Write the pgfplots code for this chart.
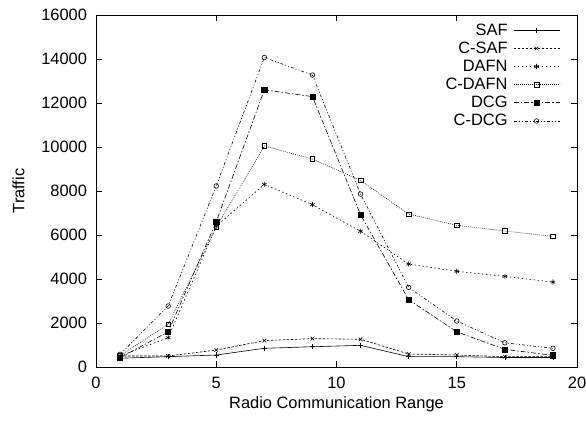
\documentclass[border=0pt]{standalone}
\usepackage{pgfplots}
\pgfplotsset{compat=1.18}
\usepackage{fontspec}
\setmainfont{Liberation Sans}
\newcommand{\tfont}{\fontsize{16.5}{19}\selectfont}
\begin{document}
\begin{tikzpicture}
\begin{axis}[
  scale only axis,
  width=481bp, height=352bp,
  xmin=0, xmax=20, ymin=0, ymax=16000,
  xtick={0,5,10,15,20},
  ytick={0,2000,4000,6000,8000,10000,12000,14000,16000},
  minor xtick={},
  tick align=inside,
  major tick length=6bp,
  axis line style={line width=0.9pt},
  every tick/.style={black, line width=0.7pt},
  scaled y ticks=false,
  /pgf/number format/assume math mode=true,
  /pgf/number format/1000 sep={},
  font=\tfont,
  tick label style={font=\tfont},
  xticklabel={\tfont\pgfmathprintnumber[assume math mode=true,1000 sep={}]{\tick}},
  yticklabel={\tfont\pgfmathprintnumber[assume math mode=true,1000 sep={},fixed]{\tick}},
  yticklabel style={xshift=-5.5bp},
  xticklabel style={yshift=-6.5bp},
  xlabel={Radio Communication Range},
  ylabel={Traffic},
  xlabel style={yshift=-1bp},
  ylabel style={yshift=10bp},
  legend style={at={(1,1)}, anchor=north east, xshift=-14bp, yshift=-4bp,
    draw=none, fill=none, font=\fontsize{16.5}{17}\selectfont,
    row sep=0bp, column sep=3bp, nodes={inner sep=2.6bp}, cells={anchor=east}},
  legend plot pos=right,
  legend image code/.code={\draw[mark repeat=2,mark phase=2] plot coordinates {(0bp,0bp) (23bp,0bp) (46bp,0bp)};},
  every axis plot/.append style={line width=0.6pt, mark size=2.6bp, black},
]
\addplot[solid, mark=+, mark options={solid}] coordinates {(1,400) (3,470) (5,545) (7,850) (9,920) (11,985) (13,470) (15,470) (17,430) (19,430)};
\addlegendentry{SAF}
\addplot[dash pattern=on 2.5bp off 1.5bp, mark=x, mark options={solid}] coordinates {(1,500) (3,500) (5,770) (7,1200) (9,1290) (11,1260) (13,590) (15,545) (17,470) (19,470)};
\addlegendentry{C-SAF}
\addplot[dash pattern=on 1.5bp off 2.5bp, mark=asterisk, mark options={solid}] coordinates {(1,500) (3,1330) (5,6400) (7,8300) (9,7380) (11,6170) (13,4680) (15,4350) (17,4120) (19,3860)};
\addlegendentry{DAFN}
\addplot[dash pattern=on 0.8bp off 1.2bp, mark=square, mark size=2.3bp, mark options={solid}] coordinates {(1,520) (3,1940) (5,6350) (7,10050) (9,9450) (11,8480) (13,6950) (15,6440) (17,6180) (19,5940)};
\addlegendentry{C-DAFN}
\addplot[dash pattern=on 5bp off 2bp on 1.5bp off 2bp, mark=square*, mark size=2.6bp, mark options={solid}] coordinates {(1,420) (3,1600) (5,6600) (7,12600) (9,12290) (11,6920) (13,3060) (15,1600) (17,800) (19,530)};
\addlegendentry{DCG}
\addplot[dash pattern=on 3bp off 2bp on 1bp off 2bp on 1bp off 2bp, mark=o, mark size=2.3bp, mark options={solid}] coordinates {(1,575) (3,2770) (5,8230) (7,14070) (9,13270) (11,7860) (13,3620) (15,2090) (17,1100) (19,850)};
\addlegendentry{C-DCG}
\end{axis}
\pgfresetboundingbox
\path (-96bp,-56bp) rectangle (490bp,367bp);
\end{tikzpicture}
\end{document}
